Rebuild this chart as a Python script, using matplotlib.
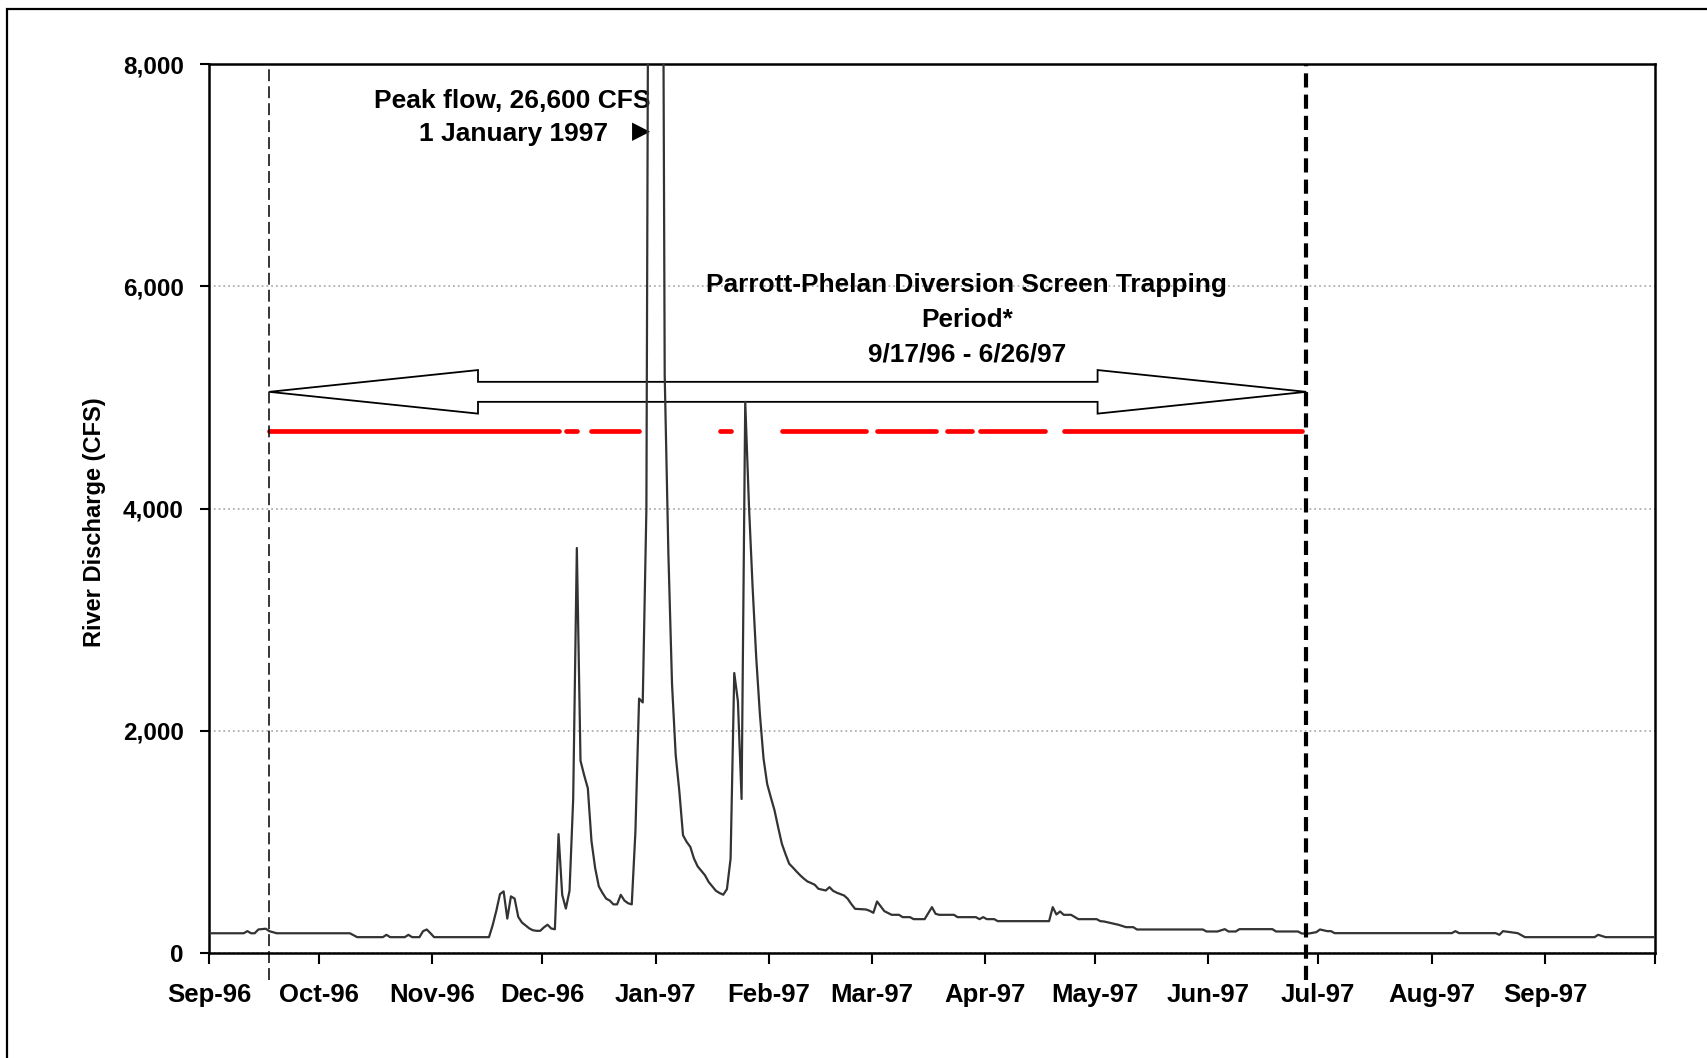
import matplotlib
matplotlib.use("Agg")
import matplotlib.pyplot as plt
import matplotlib.dates as mdates
from matplotlib.patches import Polygon, Rectangle
from matplotlib.ticker import FuncFormatter
import pandas as pd

# daily river discharge (CFS), key days
flow_dates = [
    "1996-09-01", "1996-09-10", "1996-09-11", "1996-09-12", "1996-09-13", "1996-09-14",
    "1996-09-16", "1996-09-17", "1996-09-18", "1996-09-19", "1996-10-09", "1996-10-11",
    "1996-10-18", "1996-10-19", "1996-10-20", "1996-10-24", "1996-10-25", "1996-10-26",
    "1996-10-28", "1996-10-29", "1996-10-30", "1996-10-31", "1996-11-01", "1996-11-16",
    "1996-11-17", "1996-11-18", "1996-11-19", "1996-11-20", "1996-11-21", "1996-11-22",
    "1996-11-23", "1996-11-24", "1996-11-25", "1996-11-26", "1996-11-27", "1996-11-28",
    "1996-11-29", "1996-11-30", "1996-12-01", "1996-12-02", "1996-12-03", "1996-12-04",
    "1996-12-05", "1996-12-06", "1996-12-07", "1996-12-08", "1996-12-09", "1996-12-10",
    "1996-12-11", "1996-12-12", "1996-12-13", "1996-12-14", "1996-12-15", "1996-12-16",
    "1996-12-17", "1996-12-18", "1996-12-19", "1996-12-20", "1996-12-21", "1996-12-22",
    "1996-12-23", "1996-12-24", "1996-12-25", "1996-12-26", "1996-12-27", "1996-12-28",
    "1996-12-29", "1996-12-30", "1996-12-31", "1997-01-01", "1997-01-02", "1997-01-03",
    "1997-01-04", "1997-01-05", "1997-01-06", "1997-01-07", "1997-01-08", "1997-01-09",
    "1997-01-10", "1997-01-11", "1997-01-12", "1997-01-13", "1997-01-14", "1997-01-15",
    "1997-01-16", "1997-01-17", "1997-01-18", "1997-01-19", "1997-01-20", "1997-01-21",
    "1997-01-22", "1997-01-23", "1997-01-24", "1997-01-25", "1997-01-26", "1997-01-27",
    "1997-01-28", "1997-01-29", "1997-01-30", "1997-01-31", "1997-02-01", "1997-02-02",
    "1997-02-03", "1997-02-04", "1997-02-05", "1997-02-06", "1997-02-07", "1997-02-08",
    "1997-02-09", "1997-02-10", "1997-02-11", "1997-02-12", "1997-02-13", "1997-02-14",
    "1997-02-15", "1997-02-16", "1997-02-17", "1997-02-18", "1997-02-19", "1997-02-20",
    "1997-02-21", "1997-02-22", "1997-02-23", "1997-02-24", "1997-02-27", "1997-02-28",
    "1997-03-01", "1997-03-02", "1997-03-03", "1997-03-04", "1997-03-06", "1997-03-08",
    "1997-03-09", "1997-03-11", "1997-03-12", "1997-03-15", "1997-03-17", "1997-03-18",
    "1997-03-19", "1997-03-23", "1997-03-24", "1997-03-29", "1997-03-30", "1997-03-31",
    "1997-04-01", "1997-04-03", "1997-04-04", "1997-04-18", "1997-04-19", "1997-04-20",
    "1997-04-21", "1997-04-22", "1997-04-24", "1997-04-26", "1997-04-30", "1997-05-01",
    "1997-05-02", "1997-05-03", "1997-05-05", "1997-05-07", "1997-05-09", "1997-05-11",
    "1997-05-12", "1997-05-30", "1997-05-31", "1997-06-03", "1997-06-05", "1997-06-06",
    "1997-06-08", "1997-06-09", "1997-06-18", "1997-06-19", "1997-06-25", "1997-06-26",
    "1997-06-28", "1997-06-30", "1997-07-01", "1997-07-03", "1997-07-04", "1997-07-05",
    "1997-07-31", "1997-08-06", "1997-08-07", "1997-08-08", "1997-08-18", "1997-08-19",
    "1997-08-20", "1997-08-24", "1997-08-26", "1997-08-31", "1997-09-14", "1997-09-15",
    "1997-09-17", "1997-09-30",
]
flow_cfs = [
    178, 178, 197, 178, 178, 212,
    219, 197, 188, 178, 178, 143,
    143, 164, 143, 143, 164, 143,
    143, 197, 212, 179, 143, 143,
    250, 380, 530, 555, 310, 510,
    490, 325, 275, 248, 222, 205,
    200, 200, 231, 255, 221, 214,
    1070, 524, 400, 560, 1386, 3645,
    1730, 1600, 1483, 1007, 765, 600,
    541, 490, 472, 438, 438, 524,
    472, 448, 438, 1093, 2290, 2255,
    4000, 14000, 22000, 26600, 14000, 5200,
    3600, 2420, 1783, 1455, 1060, 1000,
    955, 850, 780, 740, 700, 640,
    600, 560, 540, 525, 575, 850,
    2520, 2265, 1386, 4960, 4040, 3300,
    2660, 2150, 1750, 1520, 1400, 1284,
    1130, 984, 890, 804, 770, 734,
    700, 670, 644, 630, 614, 578,
    570, 563, 593, 560, 543, 530,
    518, 488, 440, 398, 392, 380,
    362, 464, 420, 377, 344, 344,
    323, 323, 305, 305, 413, 353,
    344, 344, 323, 323, 305, 323,
    305, 305, 287, 287, 413, 347,
    374, 344, 344, 305, 305, 305,
    287, 284, 269, 254, 233, 233,
    212, 212, 194, 194, 215, 194,
    194, 215, 215, 194, 194, 176,
    176, 188, 212, 197, 197, 179,
    179, 179, 197, 179, 179, 164,
    197, 179, 143, 143, 143, 164,
    143, 143,
]

# days on which the diversion screen was trapped (red bars)
trap_starts = ["1996-09-17", "1996-12-07", "1996-12-14", "1997-01-18", "1997-02-04",
               "1997-03-02", "1997-03-21", "1997-03-30", "1997-04-22"]
trap_ends = ["1996-12-05", "1996-12-10", "1996-12-27", "1997-01-21", "1997-02-27",
             "1997-03-18", "1997-03-28", "1997-04-17", "1997-06-26"]
trap_level = 4700

period_start = "1996-09-17"
period_end = "1997-06-27"

month_ticks = pd.date_range("1996-09-01", "1997-10-01", freq="MS")
month_labels = [d.strftime("%b-%y") for d in month_ticks[:-1]] + [""]

plt.rcParams["font.family"] = ["Liberation Sans", "DejaVu Sans"]
plt.rcParams["font.weight"] = "bold"

half_day = pd.Timedelta(hours=12)

fig = plt.figure(figsize=(17.07, 10.58), dpi=100)
ax = fig.add_axes([0.1224, 0.0992, 0.8471, 0.8403])

ax.yaxis.grid(True, linestyle=":", color="#b0b0b0", linewidth=1.3, zorder=0)
ax.set_axisbelow(True)

x = pd.to_datetime(flow_dates) + half_day
ax.plot(x, flow_cfs, color="#333333", linewidth=1.6, zorder=4)

for s, e in zip(trap_starts, trap_ends):
    ax.plot([pd.Timestamp(s) + half_day, pd.Timestamp(e) + half_day], [trap_level, trap_level],
            color="#ff0000", linewidth=3.4, solid_capstyle="round", zorder=3)

x0 = mdates.date2num(pd.Timestamp(period_start) + half_day)
x1 = mdates.date2num(pd.Timestamp(period_end) + pd.Timedelta(hours=18))

# double headed block arrow over the trapping period
yc, shaft, head, hl = 5050, 90, 196, 57
arrow_pts = [(x0, yc), (x0 + hl, yc + head), (x0 + hl, yc + shaft), (x1 - hl, yc + shaft),
             (x1 - hl, yc + head), (x1, yc), (x1 - hl, yc - head), (x1 - hl, yc - shaft),
             (x0 + hl, yc - shaft), (x0 + hl, yc - head)]
ax.add_patch(Polygon(arrow_pts, closed=True, facecolor="white", edgecolor="black",
                     linewidth=1.3, zorder=2))

ax.plot([x0, x0], [-240, 8000], color="black", linewidth=1.1, linestyle=(0, (7.8, 3.3)),
        clip_on=False, zorder=5)
ax.plot([x1, x1], [-240, 8000], color="black", linewidth=3, linestyle=(0, (3.4, 1.7)),
        clip_on=False, zorder=5)

ax.set_xlim(month_ticks[0], month_ticks[-1])
ax.set_ylim(0, 8000)
ax.set_xticks(month_ticks)
ax.set_xticklabels(month_labels)
ax.set_yticks([0, 2000, 4000, 6000, 8000])
ax.yaxis.set_major_formatter(FuncFormatter(lambda v, p: f"{v:,.0f}"))
ax.tick_params(axis="x", direction="out", length=8, width=1.5, pad=13.5, labelsize=18.5)
ax.tick_params(axis="y", direction="out", length=6.5, width=1.5, pad=11.5, labelsize=17.5)
for sp in ax.spines.values():
    sp.set_linewidth(1.8)
    sp.set_color("black")

ax.set_ylabel("River Discharge (CFS)", fontsize=17, fontweight="bold")
ax.yaxis.set_label_coords(-0.071, 0.485)

peak_x = mdates.date2num(pd.Timestamp("1996-12-30 12:00"))
ax.text(peak_x, 7604, "Peak flow, 26,600 CFS", ha="right", va="baseline", fontsize=19)
ax.text(mdates.date2num(pd.Timestamp("1996-12-19 00:00")), 7304, "1 January 1997",
        ha="right", va="baseline", fontsize=19)
ax.text(peak_x, 7400, "\u25B6", ha="right", va="center", fontsize=17,
        family=["DejaVu Sans"])

text_x = mdates.date2num(pd.Timestamp("1997-03-27"))
ax.text(text_x, 6010, "Parrott-Phelan Diversion Screen Trapping", ha="center", va="center",
        fontsize=18.9)
ax.text(text_x, 5696, "Period*", ha="center", va="center", fontsize=18.9)
ax.text(text_x, 5382, "9/17/96 - 6/26/97", ha="center", va="center", fontsize=18.9)

fig.add_artist(Rectangle((7 / 1707, -0.1), 1.2, 1.1 - 9 / 1058, transform=fig.transFigure,
                         fill=False, edgecolor="black", linewidth=1.6))

fig.savefig("out.png", dpi=100)
